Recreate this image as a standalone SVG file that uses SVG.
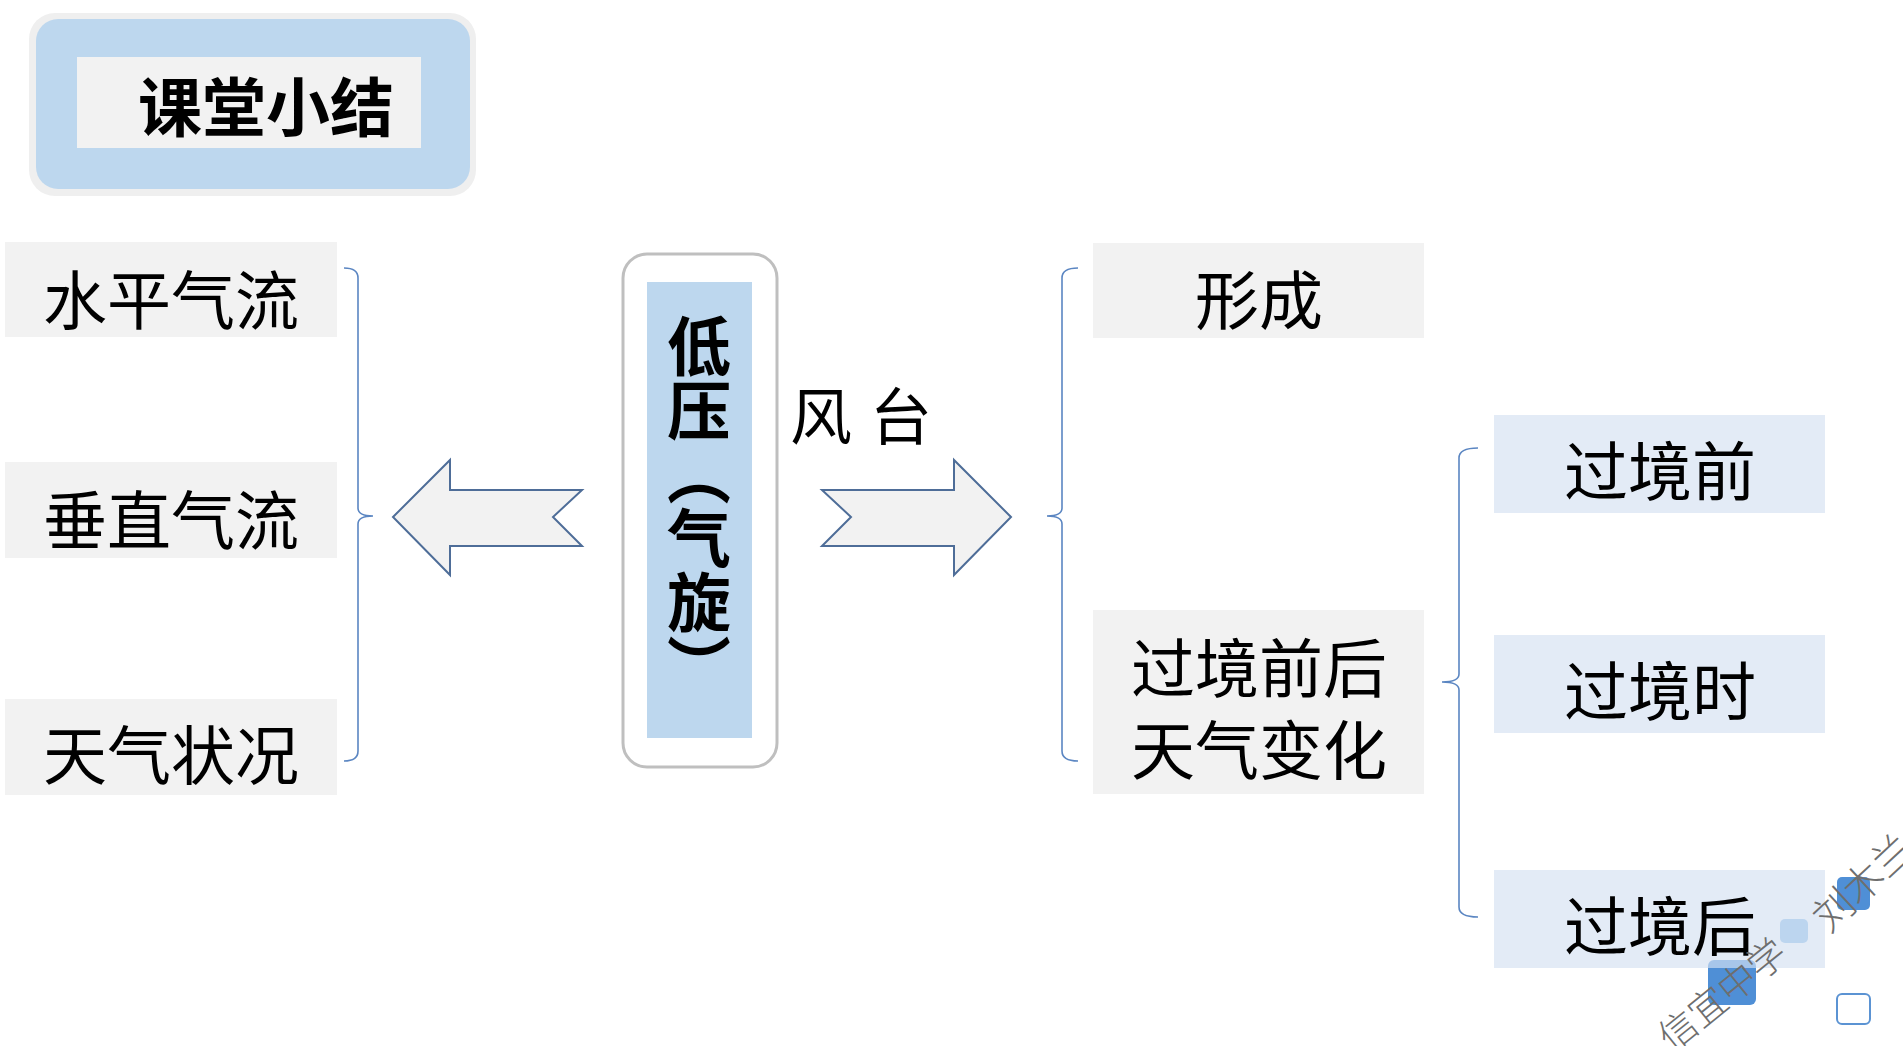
<svg xmlns="http://www.w3.org/2000/svg" width="1903" height="1046" viewBox="0 0 1903 1046">
<defs>
<style>
.t{font-family:"Noto Sans CJK SC","Noto Sans",sans-serif;fill:#000;}
.lbl{font-size:64px;}
.b{font-weight:bold;}
.gray{fill:#f2f2f2;}
.blue{fill:#e3ebf6;}
.brace{fill:none;stroke:#5b86c2;stroke-width:1.6;}
.arrow{fill:#f2f2f2;stroke:#4e6d98;stroke-width:2;stroke-linejoin:miter;}
.wm{font-family:"Noto Sans CJK SC",sans-serif;font-weight:300;fill:#6e6e6e;}
.sq{fill:#4f8fd6;}
</style>
</defs>
<rect width="1903" height="1046" fill="#ffffff"/>

<g id="title">
<rect x="29" y="13" width="447" height="183" rx="26" fill="#efefef"/>
<rect x="36" y="19" width="434" height="170" rx="22" fill="#bdd7ee"/>
<rect x="77" y="57" width="344" height="91" fill="#f2f2f2"/>
<text class="t b" x="138" y="131" font-size="64">课堂小结</text>
</g>

<g id="node-horizontal">
<rect class="gray" x="5" y="242" width="332" height="95"/>
<text class="t lbl" x="171" y="324" text-anchor="middle">水平气流</text>
</g>
<g id="node-vertical">
<rect class="gray" x="5" y="462" width="332" height="96"/>
<text class="t lbl" x="171" y="544" text-anchor="middle">垂直气流</text>
</g>
<g id="node-weather">
<rect class="gray" x="5" y="699" width="332" height="96"/>
<text class="t lbl" x="171" y="779" text-anchor="middle">天气状况</text>
</g>

<g id="node-center">
<rect x="623" y="254" width="154" height="513" rx="24" fill="#ffffff" stroke="#bfbfbf" stroke-width="3"/>
<rect x="647" y="282" width="105" height="456" fill="#bdd7ee"/>
<text class="t b" x="699" y="314" font-size="64" style="writing-mode:vertical-rl;text-orientation:mixed">低压（气旋）</text>
</g>

<g id="label-typhoon">
<text class="t" x="790" y="440" font-size="62">风 <tspan x="870">台</tspan></text>
</g>

<g id="node-formation">
<rect class="gray" x="1093" y="243" width="331" height="95"/>
<text class="t lbl" x="1259" y="324" text-anchor="middle">形成</text>
</g>
<g id="node-change">
<rect class="gray" x="1093" y="610" width="331" height="184"/>
<text class="t lbl" x="1259" y="692" text-anchor="middle">过境前后</text>
<text class="t lbl" x="1259" y="774" text-anchor="middle">天气变化</text>
</g>

<g id="node-before">
<rect class="blue" x="1494" y="415" width="331" height="98"/>
<text class="t lbl" x="1660" y="495" text-anchor="middle">过境前</text>
</g>
<g id="node-during">
<rect class="blue" x="1494" y="635" width="331" height="98"/>
<text class="t lbl" x="1660" y="715" text-anchor="middle">过境时</text>
</g>
<g id="node-after">
<rect class="blue" x="1494" y="870" width="331" height="98"/>
<text class="t lbl" x="1660" y="950" text-anchor="middle">过境后</text>
</g>

<g id="connectors">
<path class="brace" d="M344,268 Q358,268 358,278 L358,508 Q358,516 373,516 Q358,516 358,524 L358,751 Q358,761 344,761"/>
<path class="brace" d="M1078,268 Q1062,268 1062,278 L1062,508 Q1062,516 1047,516 Q1062,516 1062,524 L1062,751 Q1062,761 1078,761"/>
<path class="brace" d="M1478,448 Q1459,448 1459,458 L1459,674 Q1459,682 1442,682 Q1459,682 1459,690 L1459,907 Q1459,917 1478,917"/>
<polygon class="arrow" points="393,517 450,460 450,490 582,490 553,517 582,546 450,546 450,575"/>
<polygon class="arrow" points="1011,517 954,460 954,490 822,490 851,517 822,546 954,546 954,575"/>
</g>

<g id="watermark">
<rect class="sq" x="1837" y="877" width="33" height="33" rx="5"/>
<rect x="1780" y="919" width="28" height="24" rx="5" fill="#bcd5ef"/>
<rect class="sq" x="1708" y="960" width="48" height="45" rx="6"/>
<rect x="1708" y="960" width="48" height="8" fill="#e3ebf6" opacity="0.6"/>
<rect x="1837" y="994" width="33" height="30" rx="5" fill="#ffffff" stroke="#5b93d3" stroke-width="2"/>
<text class="wm" transform="translate(1829,934) rotate(-43)" font-size="40">刘木兰</text>
<text class="wm" transform="translate(1672,1053) rotate(-39)" font-size="38">信宜中学</text>
</g>
</svg>
